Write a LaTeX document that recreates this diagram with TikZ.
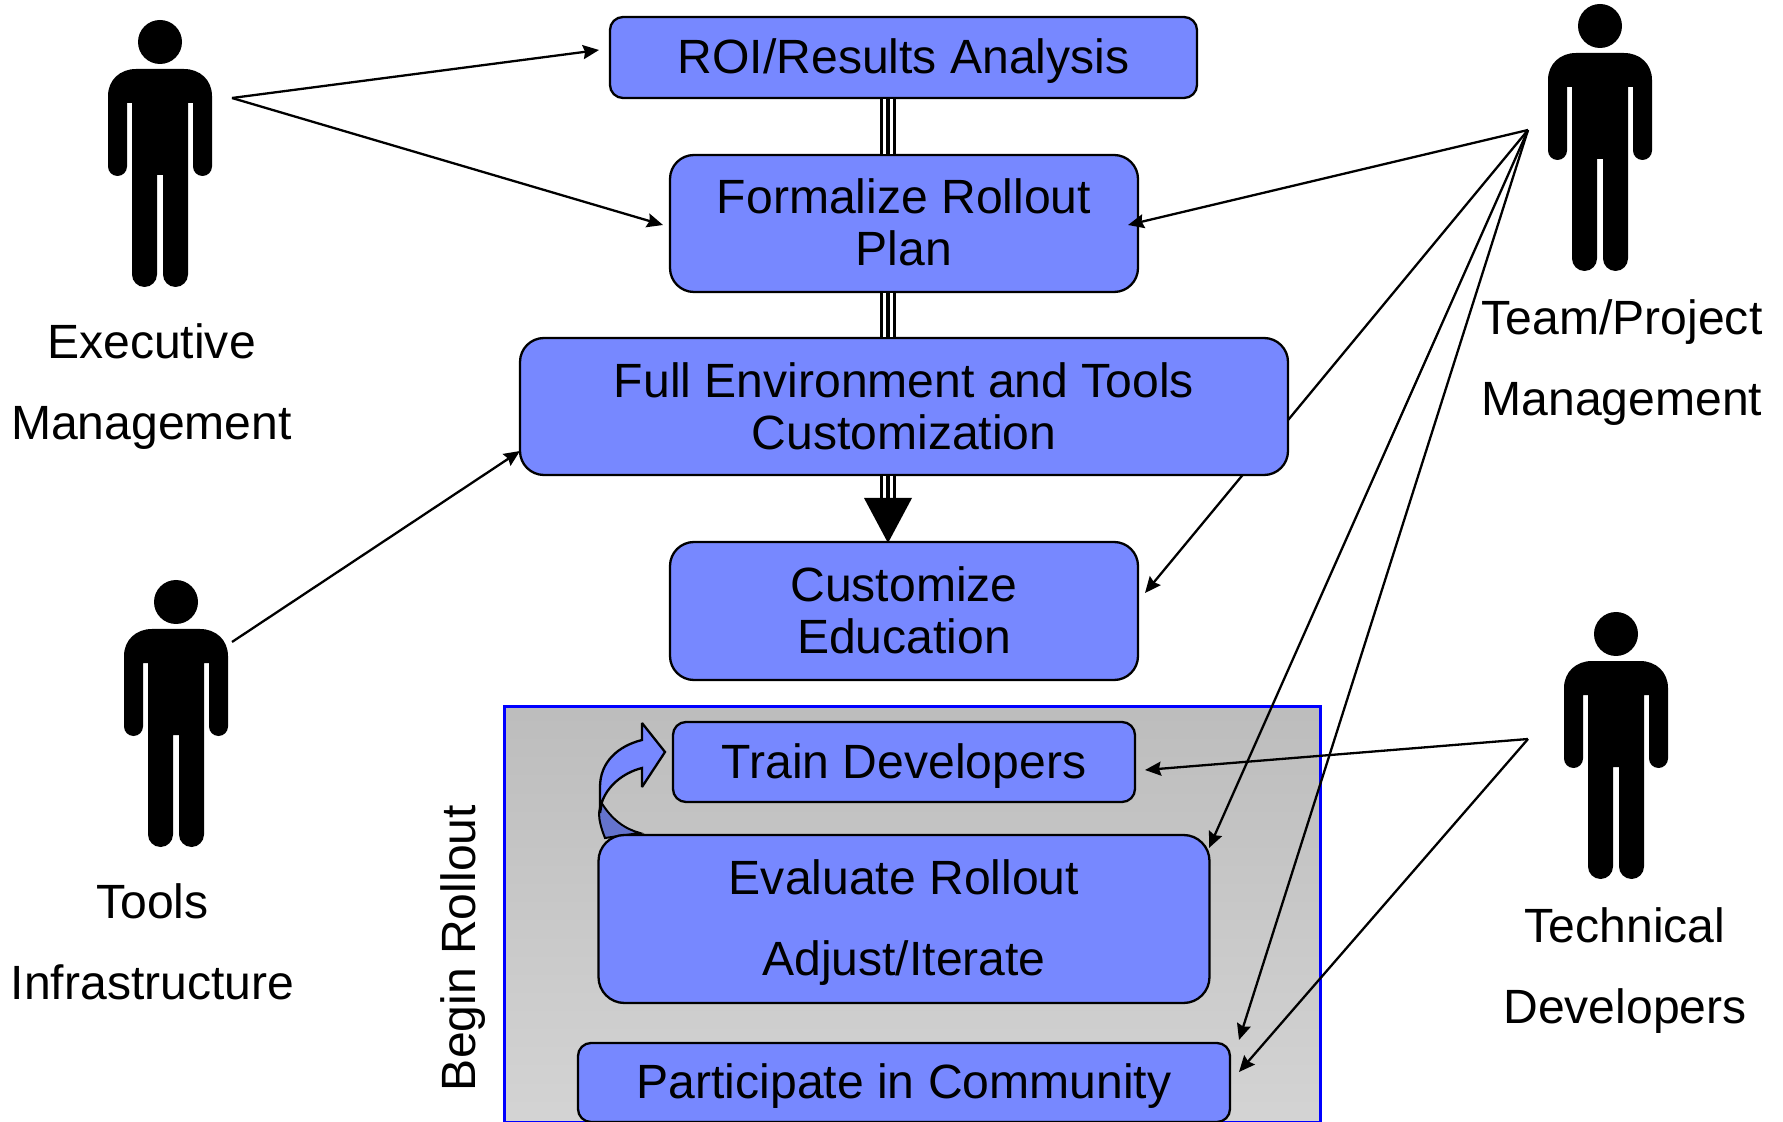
\documentclass[tikz,border=0pt]{standalone}
\usepackage{fontspec}
\setmainfont{Liberation Sans}
\usetikzlibrary{arrows.meta,calc}
\pgfdeclarelayer{back}
\pgfsetlayers{back,main}
\definecolor{boxblue}{RGB}{119,136,255}
\definecolor{darkblue}{RGB}{100,115,205}
\tikzset{
  x=0.5pt,y=-0.5pt,
  boxnode/.style={draw=black,line width=1.15pt,fill=boxblue,align=center,inner sep=0pt,
    font=\fontsize{24.05}{26}\selectfont},
  oneline/.style={text height=22.2pt,text depth=6pt},
  twolines/.style={text depth=1.1pt},
  label/.style={align=center,inner sep=0pt,font=\fontsize{24.05}{40.5}\selectfont},
  conn/.style={line width=1.15pt,-{Stealth[length=8pt,width=7pt,inset=1pt]}},
  pics/person/.style={code={
    \fill[black] (0,0) circle[radius=22];
    \fill[black,shift={(-160,-42)}]
      (136,69) -- (184,69) .. controls (200,69) and (212,80) .. (212,96)
      -- (212,166.5) arc (0:180:9.5) -- (193,103) -- (188,103)
      -- (188,274.5) arc (0:180:12.5) -- (163,175) -- (157,175)
      -- (157,274.5) arc (0:180:12.5) -- (132,103) -- (127,103)
      -- (127,166.5) arc (0:180:9.5) -- (108,96)
      .. controls (108,80) and (120,69) .. (136,69) -- cycle;
  }}
}
\begin{document}
\begin{tikzpicture}
\useasboundingbox (0,0) rectangle (1783,1122);
% boxes
\node[boxnode,oneline,rounded corners=6.5pt,minimum width=293.5pt,minimum height=40.5pt] (roi) at (903.5,57.5) {ROI/Results Analysis};
\node[boxnode,twolines,rounded corners=12pt,minimum width=234pt,minimum height=68.5pt] (form) at (904,223.5) {Formalize Rollout\\Plan};
\node[boxnode,rounded corners=12pt,minimum width=384pt,minimum height=68.5pt] (full) at (904,406.5) {Full Environment and Tools\\Customization};
\node[boxnode,twolines,rounded corners=12pt,minimum width=234pt,minimum height=69pt] (cust) at (904,611) {Customize\\Education};
\node[boxnode,oneline,rounded corners=6.5pt,minimum width=231pt,minimum height=40pt,text height=22.8pt] (train) at (904,762) {Train Developers};
\node[boxnode,rounded corners=13pt,minimum width=305.5pt,minimum height=84pt,text height=61.5pt,text depth=5pt,font=\fontsize{24.05}{40.5}\selectfont] (eval) at (904,919) {Evaluate Rollout\\Adjust/Iterate};
\node[boxnode,oneline,rounded corners=6.5pt,minimum width=326pt,minimum height=39.5pt,text height=21.8pt] (part) at (904,1082.5) {Participate in Community};
% panel, curved arrow
\begin{pgfonlayer}{back}
\node[draw=blue,line width=1.5pt,top color=black!26,bottom color=black!17,minimum width=408pt,minimum height=208pt,inner sep=0pt] (panel) at (912,914) {};
\fill[darkblue,draw=black,line width=1pt] (601,802) .. controls (612,820) and (625,829) .. (640,833) -- (605,838) .. controls (601,828) and (599,820) .. (599,813) -- cycle;
\draw[fill=boxblue,line width=1.15pt,line join=miter,miter limit=3] (665,752) -- (642,723) -- (642,740)
  .. controls (618,746) and (600,762) .. (600,787) -- (600,813) -- (602,802)
  .. controls (607,787) and (622,773) .. (642,768) -- (642,787) -- cycle;
\end{pgfonlayer}
\node[rotate=90,inner sep=0pt,font=\fontsize{24.05}{26}\selectfont] (begin) at (463.5,948) {Begin Rollout};
% stacks
\coordinate (stackx) at (888,0);
\coordinate (headbase) at (888,498);
\coordinate (headl) at (864,498);
\coordinate (headr) at (912,498);
\coordinate (headtip) at (888,543);
\foreach \w/\c in {8pt/black,5.2pt/white,2.4pt/black}{
  \draw[line width=\w,\c] (roi.south -| stackx) -- (form.north -| stackx);
  \draw[line width=\w,\c] (form.south -| stackx) -- (full.north -| stackx);
  \draw[line width=\w,\c] (full.south -| stackx) -- (headbase);
}
\fill[black] (headl) -- (headr) -- (headtip) -- cycle;
% people
\pic at (160,42) {person};
\pic at (1600,26) {person};
\pic at (176,602) {person};
\pic at (1616,634) {person};
\node[label] (lexec) at (151.5,386.5) {Executive\\Management};
\node[label] (ltools) at (152.5,942) {Tools\\Infrastructure};
\node[label] (lteam) at (1622,362.5) {Team/Project\\Management};
\node[label] (ltech) at (1625,970.5) {Technical\\Developers};
% connectors
\coordinate (oexec) at (232,98);
\coordinate (otools) at (232,642);
\coordinate (oteam) at (1528,130);
\coordinate (otech) at (1528,739);
\coordinate (troi) at (599,50);
\coordinate (tform) at (663,225);
\coordinate (tfull) at (520,451);
\coordinate (tformr) at (1128,225);
\coordinate (tcust) at (1145,593);
\coordinate (teval) at (1209,848);
\coordinate (tpart) at (1239,1040);
\coordinate (ttrain) at (1145,770);
\coordinate (tpartb) at (1239,1072);
\draw[conn] (oexec) -- (troi);
\draw[conn] (oexec) -- (tform);
\draw[conn] (otools) -- (tfull);
\draw[conn] (oteam) -- (tformr);
\begin{pgfonlayer}{back}
\draw[conn] (oteam) -- (tcust);
\end{pgfonlayer}
\draw[conn] (oteam) -- (teval);
\draw[conn] (oteam) -- (tpart);
\draw[conn] (otech) -- (ttrain);
\draw[conn] (otech) -- (tpartb);
\end{tikzpicture}
\end{document}
